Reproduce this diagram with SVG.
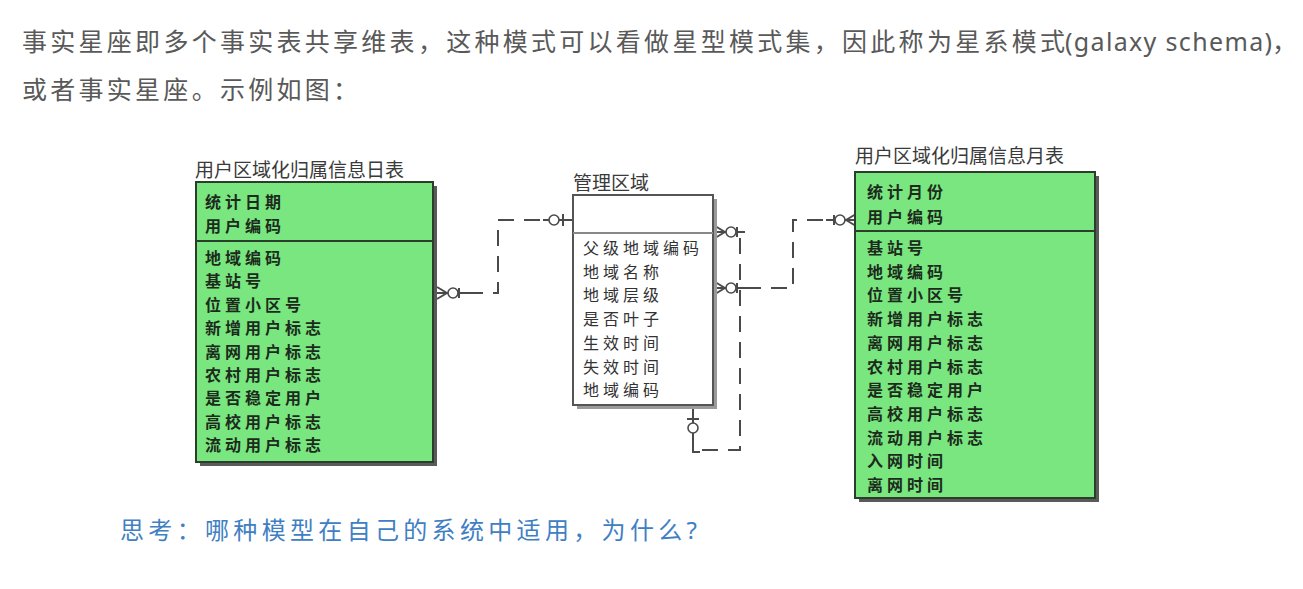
<svg xmlns="http://www.w3.org/2000/svg" width="1303" height="589" viewBox="0 0 1303 589">
<style>
.para{font-family:"Noto Sans","Noto Sans CJK SC",sans-serif;font-size:25px;fill:#595959}
.ask{font-family:"Noto Sans","Noto Sans CJK SC",sans-serif;font-size:24px;fill:#3f80c4}
.ttl{font-family:"Noto Sans CJK SC",sans-serif;font-size:19px;fill:#3a3a3a}
.fld{font-family:"Noto Sans CJK SC",sans-serif;font-size:16px;font-weight:700;letter-spacing:4px;fill:#1d2b1d}
.fldw{font-family:"Noto Sans CJK SC",sans-serif;font-size:16px;letter-spacing:4px;fill:#333}
.ent{fill:#79e680;stroke:#2b3d2b;stroke-width:2}
.entw{fill:#ffffff;stroke:#555;stroke-width:2}
.shd{fill:#5a5a5a}
.shdw{fill:#9a9a9a}
.div{stroke:#2b3d2b;stroke-width:2}
.divw{stroke:#888;stroke-width:2}
.dash{fill:none;stroke:#4a4a4a;stroke-width:2;stroke-dasharray:16 10}
.sol{fill:none;stroke:#4a4a4a;stroke-width:2}
.mk{fill:#fff;stroke:#4a4a4a;stroke-width:1.6}
</style>
<defs>
<g id="crowO">
<line class="sol" x1="0" y1="0" x2="30" y2="0"/>
<line class="sol" x1="0" y1="-6" x2="10" y2="0"/>
<line class="sol" x1="0" y1="6" x2="10" y2="0"/>
<circle class="mk" cx="16" cy="0" r="5"/>
<line class="sol" x1="22" y1="-5" x2="22" y2="5"/>
</g>
<g id="oneO">
<line class="sol" x1="0" y1="0" x2="30" y2="0"/>
<line class="sol" x1="10" y1="-6" x2="10" y2="6"/>
<circle class="mk" cx="19" cy="0" r="5"/>
</g>
</defs>

<g id="intro">
<text class="para" x="22" y="51" textLength="1043" lengthAdjust="spacing">事实星座即多个事实表共享维表，这种模式可以看做星型模式集，因此称为星系模式</text>
<text class="para" x="1065" y="51" textLength="207" lengthAdjust="spacing">(galaxy schema)</text>
<text class="para" x="1272" y="51">，</text>
<text class="para" x="22" y="99" textLength="336" lengthAdjust="spacing">或者事实星座。示例如图：</text>
</g>

<g id="connectors">
<use href="#crowO" transform="translate(437,293)"/>
<path class="dash" d="M467,293 H498 V220 H543"/>
<use href="#oneO" transform="translate(573,220) rotate(180)"/>

<use href="#crowO" transform="translate(715,232)"/>
<path class="dash" d="M740,238 V450 H700"/>
<path class="sol" d="M740,232 H745"/>
<use href="#oneO" transform="translate(693,409) rotate(90)"/>
<path class="sol" d="M693,439 V452 H700"/>

<use href="#crowO" transform="translate(715,288)"/>
<path class="dash" d="M745,288 H793 V220 H826"/>
<use href="#crowO" transform="translate(856,220) rotate(180)"/>
</g>

<g id="daily-fact">
<text class="ttl" x="195" y="177">用户区域化归属信息日表</text>
<rect class="shd" x="200" y="186" width="237" height="280"/>
<rect class="ent" x="196" y="182" width="237" height="280"/>
<line class="div" x1="196" y1="241" x2="433" y2="241"/>
<text class="fld" x="205" y="208">统计日期</text>
<text class="fld" x="205" y="232">用户编码</text>
<text class="fld" x="205" y="264">地域编码</text>
<text class="fld" x="205" y="287.4">基站号</text>
<text class="fld" x="205" y="310.8">位置小区号</text>
<text class="fld" x="205" y="334.2">新增用户标志</text>
<text class="fld" x="205" y="357.6">离网用户标志</text>
<text class="fld" x="205" y="381">农村用户标志</text>
<text class="fld" x="205" y="404.4">是否稳定用户</text>
<text class="fld" x="205" y="427.8">高校用户标志</text>
<text class="fld" x="205" y="451.2">流动用户标志</text>
</g>

<g id="region-dim">
<text class="ttl" x="573" y="190">管理区域</text>
<rect class="shdw" x="577" y="199" width="140" height="210"/>
<rect class="entw" x="573" y="195" width="140" height="210"/>
<line class="divw" x1="573" y1="233" x2="713" y2="233"/>
<text class="fldw" x="583" y="254">父级地域编码</text>
<text class="fldw" x="583" y="277.7">地域名称</text>
<text class="fldw" x="583" y="301.4">地域层级</text>
<text class="fldw" x="583" y="325.1">是否叶子</text>
<text class="fldw" x="583" y="348.8">生效时间</text>
<text class="fldw" x="583" y="372.5">失效时间</text>
<text class="fldw" x="583" y="396.2">地域编码</text>
</g>

<g id="monthly-fact">
<text class="ttl" x="855" y="163">用户区域化归属信息月表</text>
<rect class="shd" x="859" y="176" width="240" height="326"/>
<rect class="ent" x="855" y="172" width="240" height="326"/>
<line class="div" x1="855" y1="231" x2="1095" y2="231"/>
<text class="fld" x="867" y="198">统计月份</text>
<text class="fld" x="867" y="223">用户编码</text>
<text class="fld" x="867" y="254">基站号</text>
<text class="fld" x="867" y="277.7">地域编码</text>
<text class="fld" x="867" y="301.4">位置小区号</text>
<text class="fld" x="867" y="325.1">新增用户标志</text>
<text class="fld" x="867" y="348.8">离网用户标志</text>
<text class="fld" x="867" y="372.5">农村用户标志</text>
<text class="fld" x="867" y="396.2">是否稳定用户</text>
<text class="fld" x="867" y="419.9">高校用户标志</text>
<text class="fld" x="867" y="443.6">流动用户标志</text>
<text class="fld" x="867" y="467.3">入网时间</text>
<text class="fld" x="867" y="491">离网时间</text>
</g>

<g id="question">
<text class="ask" x="120" y="539" textLength="577" lengthAdjust="spacing">思考：哪种模型在自己的系统中适用，为什么?</text>
</g>
</svg>
